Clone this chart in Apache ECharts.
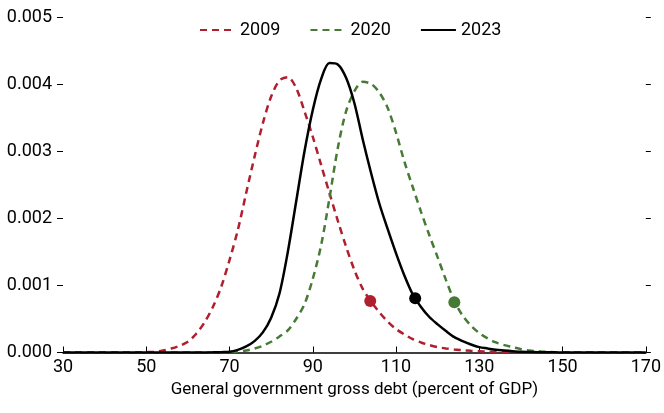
<!DOCTYPE html>
<html>
<head>
<meta charset="utf-8">
<script src="https://cdn.jsdelivr.net/npm/echarts@6/dist/echarts.min.js"></script>
<style>
  html, body { margin: 0; padding: 0; background: #fff; }
  #chart { width: 664px; height: 413px; }
</style>
</head>
<body>
<div id="chart"></div>
<script>
// Debt level (percent of GDP)
const debtX = [
  30, 32, 34, 36, 38, 40, 42, 44, 46, 48,
  50, 52, 54, 56, 58, 60, 62, 64, 66, 68,
  70, 72, 74, 76, 78, 80, 82, 84, 86, 88,
  90, 92, 94, 96, 98, 100, 102, 104, 106, 108,
  110, 112, 114, 116, 118, 120, 122, 124, 126, 128,
  130, 132, 134, 136, 138, 140, 142, 144, 146, 148,
  150, 152, 154, 156, 158, 160, 162, 164, 166, 168,
  170
];
// Densities in thousandths
const density2009 = [
  0, 0, 0, 0, 0, 0, 0, 0, 0, 0.002,
  0.005, 0.01, 0.03, 0.06, 0.10, 0.16, 0.28, 0.45, 0.68, 0.98,
  1.38, 1.83, 2.38, 2.92, 3.42, 3.82, 4.06, 4.11, 3.95, 3.60,
  3.22, 2.80, 2.38, 1.97, 1.58, 1.23, 0.95, 0.76, 0.60, 0.46,
  0.35, 0.27, 0.20, 0.15, 0.11, 0.08, 0.06, 0.045, 0.035, 0.025,
  0.018, 0.012, 0.008, 0.005, 0.003, 0.002, 0, 0, 0, 0,
  0, 0, 0, 0, 0, 0, 0, 0, 0, 0,
  0
];
const density2020 = [
  0, 0, 0, 0, 0, 0, 0, 0, 0, 0,
  0, 0, 0, 0, 0, 0, 0, 0.001, 0.002, 0.004,
  0.006, 0.01, 0.03, 0.06, 0.10, 0.16, 0.24, 0.33, 0.50, 0.72,
  1.10, 1.60, 2.30, 3.05, 3.60, 3.90, 4.04, 4.01, 3.88, 3.65,
  3.28, 2.85, 2.47, 2.10, 1.75, 1.42, 1.08, 0.77, 0.55, 0.40,
  0.29, 0.21, 0.15, 0.11, 0.08, 0.05, 0.03, 0.02, 0.01, 0.005,
  0.003, 0.002, 0.001, 0, 0, 0, 0, 0, 0, 0,
  0
];
const density2023 = [
  0, 0, 0, 0, 0, 0, 0, 0, 0, 0,
  0, 0, 0, 0, 0, 0, 0, 0.001, 0.002, 0.005,
  0.01, 0.04, 0.09, 0.17, 0.30, 0.52, 0.88, 1.50, 2.25, 3.00,
  3.62, 4.08, 4.32, 4.30, 4.10, 3.72, 3.18, 2.68, 2.22, 1.84,
  1.48, 1.15, 0.87, 0.68, 0.53, 0.42, 0.32, 0.23, 0.17, 0.12,
  0.08, 0.06, 0.04, 0.03, 0.02, 0.01, 0.007, 0.005, 0.003, 0.002,
  0.001, 0, 0, 0, 0, 0, 0, 0, 0, 0,
  0
];
// Marked points (debt, density in thousandths)
const markers2009 = [103.8, 0.77];
const markers2020 = [124.0, 0.75];
const markers2023 = [114.6, 0.81];

const seriesNames = ['2009', '2020', '2023'];

const RED = '#B01F2E', GREEN = '#467A35', BLACK = '#000000';
const FONT = 'Roboto, "DejaVu Sans", sans-serif';

function pairs(vals) { return debtX.map((x, i) => [x, vals[i] / 1000]); }
function pt(p) { return [[p[0], p[1] / 1000]]; }

const chart = echarts.init(document.getElementById('chart'));
chart.setOption({
  animation: false,
  backgroundColor: '#fff',
  grid: { left: 63, right: 14, top: 17.5, bottom: 60.5 },
  legend: {
    top: 16, left: 194,
    itemWidth: 35, itemHeight: 10, itemGap: 29,
    itemStyle: { opacity: 0, borderWidth: 0 },
    textStyle: { fontFamily: FONT, fontSize: 18, color: '#000' },
    data: seriesNames
  },
  xAxis: {
    type: 'value', min: 30, max: 170, interval: 20,
    name: 'General government gross debt (percent of GDP)',
    nameLocation: 'middle', nameGap: 12,
    nameTextStyle: { fontFamily: FONT, fontSize: 17, color: '#000' },
    axisLine: { show: true, lineStyle: { color: '#000', width: 1.5 } },
    axisTick: { show: true, inside: true, length: 6, lineStyle: { color: '#000', width: 1 } },
    axisLabel: { fontFamily: FONT, fontSize: 18, color: '#000', margin: 6 },
    splitLine: { show: false }
  },
  yAxis: [{
    type: 'value', min: 0, max: 0.005, interval: 0.001,
    axisLine: { show: false },
    axisTick: { show: true, length: 6, lineStyle: { color: '#000', width: 1 } },
    axisLabel: { fontFamily: FONT, fontSize: 18, color: '#000', margin: 11,
      formatter: v => v.toFixed(3) },
    splitLine: { show: false }
  }, {
    type: 'value', min: 0, max: 0.005, interval: 0.001, position: 'right',
    axisLine: { show: false },
    axisTick: { show: true, length: 5, lineStyle: { color: '#000', width: 1 } },
    axisLabel: { show: false },
    splitLine: { show: false }
  }],
  series: [
    { name: '2009', type: 'line', data: pairs(density2009), smooth: 0.3,
      symbol: 'none', color: RED, lineStyle: { color: RED, width: 2.5, type: [7, 5] }, z: 2 },
    { name: '2020', type: 'line', data: pairs(density2020), smooth: 0.3,
      symbol: 'none', color: GREEN, lineStyle: { color: GREEN, width: 2.5, type: [7, 5] }, z: 2 },
    { name: '2023', type: 'line', data: pairs(density2023), smooth: 0.3,
      symbol: 'none', color: BLACK, lineStyle: { color: BLACK, width: 2.5 }, z: 3 },
    { type: 'scatter', data: pt(markers2009), symbolSize: 12, itemStyle: { color: RED, opacity: 1 }, z: 4 },
    { type: 'scatter', data: pt(markers2020), symbolSize: 12, itemStyle: { color: GREEN, opacity: 1 }, z: 4 },
    { type: 'scatter', data: pt(markers2023), symbolSize: 12, itemStyle: { color: BLACK, opacity: 1 }, z: 4 }
  ]
});
</script>
</body>
</html>
